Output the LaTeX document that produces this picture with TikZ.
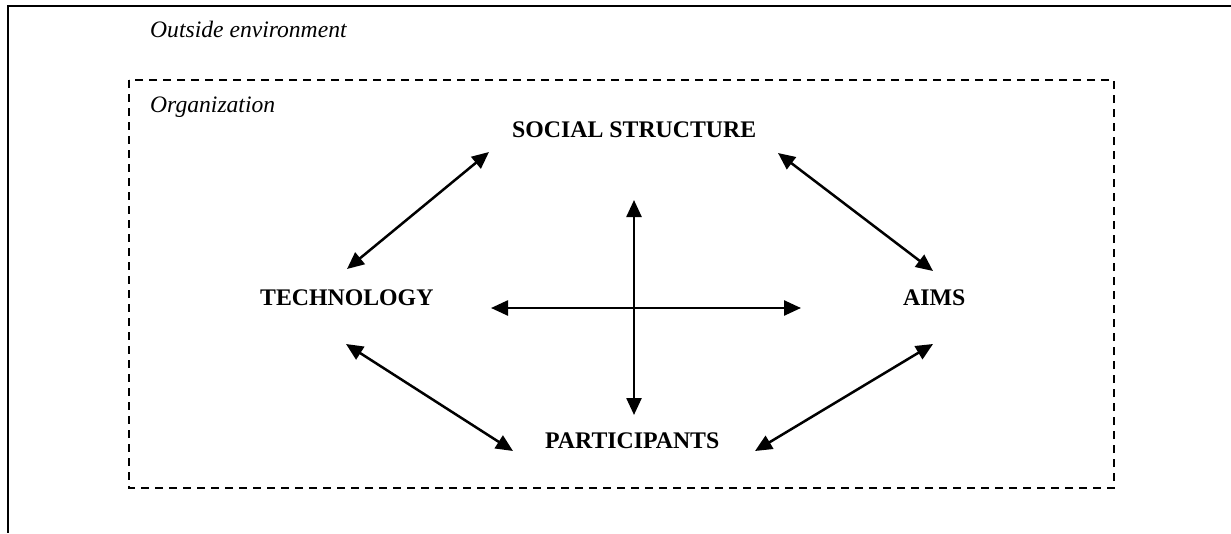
\documentclass[tikz,border=0pt]{standalone}
\usepackage{fontspec}
\setmainfont{Liberation Serif}
\usetikzlibrary{arrows.meta}
\tikzset{
  lbl/.style={anchor=base west, inner sep=0pt, font=\fontsize{23.8}{28}\selectfont\bfseries},
  itl/.style={anchor=base west, inner sep=0pt, font=\fontsize{23.6}{28}\selectfont\itshape},
  rel/.style={line width=2.5pt, {Triangle[length=17pt,width=15pt]}-{Triangle[length=17pt,width=15pt]}},
  frame/.style={line width=2.5pt},
  orgbox/.style={line width=2.3pt, dash pattern=on 8pt off 6pt}
}
\begin{document}
\begin{tikzpicture}[x=1pt,y=-1pt]
\useasboundingbox (0,0) rectangle (1231,533);
% outer environment frame (top and left edges)
\coordinate (envTR) at (1231,6);
\coordinate (envTL) at (8,6);
\coordinate (envBL) at (8,533);
\draw[frame] (envTR) -- (envTL) -- (envBL);
\node[itl] (env) at (150,37) {Outside environment};
% organization box
\coordinate (orgTL) at (129,80);
\coordinate (orgBR) at (1114,488);
\draw[orgbox] (orgTL) rectangle (orgBR);
\node[itl] (org) at (150,112) {Organization};
% components
\node[lbl] (soc) at (512,137) {SOCIAL STRUCTURE};
\node[lbl] (tech) at (260,305) {TECHNOLOGY};
\node[lbl] (aims) at (903,305) {AIMS};
\node[lbl] (part) at (545,448) {PARTICIPANTS};
% arrow end points
\coordinate (a1) at (347,269);
\coordinate (a2) at (489,152);
\coordinate (b1) at (778,153);
\coordinate (b2) at (933,271);
\coordinate (c1) at (346,344);
\coordinate (c2) at (513,451);
\coordinate (d1) at (933,344);
\coordinate (d2) at (755,451);
\coordinate (v1) at (634,200);
\coordinate (v2) at (634,415);
\coordinate (h1) at (491,308);
\coordinate (h2) at (801,308);
\draw[rel] (a1) -- (a2);
\draw[rel] (b1) -- (b2);
\draw[rel] (c1) -- (c2);
\draw[rel] (d1) -- (d2);
\draw[rel] (v1) -- (v2);
\draw[rel] (h1) -- (h2);
\end{tikzpicture}
\end{document}
